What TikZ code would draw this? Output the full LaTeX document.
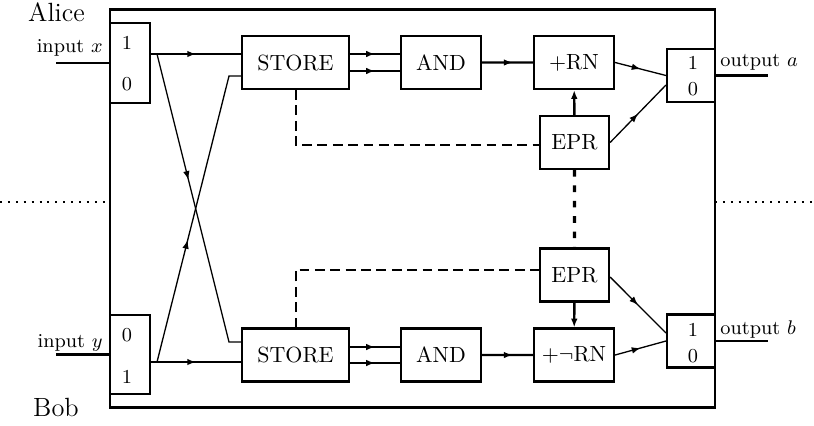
\documentclass[tikz,border=0pt]{standalone}
\usetikzlibrary{arrows.meta,calc,decorations.markings}
\tikzset{midarrow/.style={postaction={decorate},decoration={markings,mark=at position #1 with {\arrow{Latex[length=4pt,width=3pt]}}}},
  midarrow/.default=0.5}
\begin{document}
\begin{tikzpicture}[scale=0.16]
\tikzstyle{every node}+=[inner sep=0pt]
\tikzstyle{box}=[draw, line width=1pt, minimum height=24.1pt]
\tikzstyle{mux}=[draw, line width=1pt, minimum width=18.2pt]
\tikzstyle{wire}=[line width=1.1pt]
\tikzstyle{thinwire}=[line width=0.6pt]
\tikzstyle{classical}=[line width=0.9pt, dash pattern=on 4.5pt off 2.5pt]
\tikzstyle{quantum}=[line width=1.4pt, dash pattern=on 3pt off 4pt]
\tikzstyle{border}=[line width=0.9pt, dash pattern=on 0.9pt off 2.7pt]
\useasboundingbox (0,0) rectangle (81.4,-42.5);
\draw [line width=1.3pt] (11,-0.95) rectangle (71.5,-40.75);
\draw [border] (0,-20.2) -- (11,-20.2);
\draw [border] (71.5,-20.2) -- (81.4,-20.2);
\node (alice) at (5.65,-1.25) {\large Alice};
\node (bob) at (5.6,-40.75) {\large Bob};
\node [mux, minimum height=36.4pt] (muxX) at (13,-6.3) {};
\node [mux, minimum height=36pt] (muxY) at (13,-35.45) {};
\node (x1) at (12.7,-4.25) {\small 1};
\node (x0) at (12.7,-8.45) {\small 0};
\node (y0) at (12.7,-33.5) {\small 0};
\node (y1) at (12.7,-37.65) {\small 1};
\node [box, minimum width=48.6pt] (store1) at (29.55,-6.25) {STORE};
\node [box, minimum width=48.6pt] (store2) at (29.55,-35.5) {STORE};
\node [box, minimum width=36.4pt] (and1) at (44.1,-6.25) {AND};
\node [box, minimum width=36.4pt] (and2) at (44.1,-35.5) {AND};
\node [box, minimum width=36.4pt] (rn1) at (57.4,-6.25) {$+$RN};
\node [box, minimum width=36.4pt] (rn2) at (57.4,-35.5) {$+\neg$RN};
\node [box, minimum width=31.4pt] (epr1) at (57.45,-14.25) {EPR};
\node [box, minimum width=31.4pt] (epr2) at (57.45,-27.5) {EPR};
\node [box, minimum width=21.8pt] (outA) at (69.1,-7.55) {};
\node [box, minimum width=21.8pt] (outB) at (69.1,-34.1) {};
\node (a1) at (69.3,-6.3) {\small 1};
\node (a0) at (69.3,-8.9) {\small 0};
\node (b1) at (69.3,-33) {\small 1};
\node (b0) at (69.3,-35.6) {\small 0};
\node [anchor=east] (inxlabel) at (10.3,-4.75) {\small input $x$};
\node [anchor=east] (inylabel) at (10.3,-34.25) {\small input $y$};
\node [anchor=west] (outalabel) at (72,-6.25) {\small output $a$};
\node [anchor=west] (outblabel) at (72,-32.95) {\small output $b$};
\coordinate (inx) at (5.6,-6.3);
\coordinate (iny) at (5.6,-35.45);
\coordinate (outa) at (76.8,-7.55);
\coordinate (outb) at (76.8,-34.1);
\coordinate (sx) at (15.7,-5.4);
\coordinate (sy) at (15.7,-36.2);
\coordinate (cx) at (22.9,-7.6);
\coordinate (cy) at (22.9,-34.2);
\draw [wire] (inx) -- (muxX.west);
\draw [wire] (iny) -- (muxY.west);
\draw [wire, midarrow] (muxX.east |- sx) -- (store1.west |- sx);
\draw [wire, midarrow] (muxY.east |- sy) -- (store2.west |- sy);
\draw [thinwire, midarrow=0.42] (sx) -- (cy) -- (cy -| store2.west);
\draw [thinwire, midarrow=0.41] (sy) -- (cx) -- (cx -| store1.west);
\draw [wire, midarrow] ($(store1.east)+(0,0.85)$) -- ($(and1.west)+(0,0.85)$);
\draw [wire, midarrow] ($(store1.east)+(0,-0.85)$) -- ($(and1.west)+(0,-0.85)$);
\draw [wire, midarrow] ($(store2.east)+(0,0.8)$) -- ($(and2.west)+(0,0.8)$);
\draw [wire, midarrow] ($(store2.east)+(0,-0.8)$) -- ($(and2.west)+(0,-0.8)$);
\draw [wire, midarrow=0.6] (and1) -- (rn1);
\draw [wire, midarrow=0.6] (and2) -- (rn2);
\draw [wire, -{Latex[length=4pt,width=3pt]}] (epr1) -- (rn1);
\draw [wire, -{Latex[length=4pt,width=3pt]}] (epr2) -- (rn2);
\draw [classical] (store1.south) |- ($(epr1.west)+(0,-0.25)$);
\draw [classical] (store2.north) |- ($(epr2.west)+(0,0.5)$);
\draw [quantum] (epr1) -- (epr2);
\draw [thinwire, midarrow] (rn1.east) -- (outA.west);
\draw [thinwire, midarrow] (epr1.east) -- ($(outA.west)+(0,-0.95)$);
\draw [thinwire, midarrow] ($(epr2.east)+(0,-0.2)$) -- ($(outB.west)+(0,0.8)$);
\draw [thinwire, midarrow] (rn2.east) -- (outB.west);
\draw [wire] (outA.east) -- (outa);
\draw [wire] (outB.east) -- (outb);
\end{tikzpicture}
\end{document}
